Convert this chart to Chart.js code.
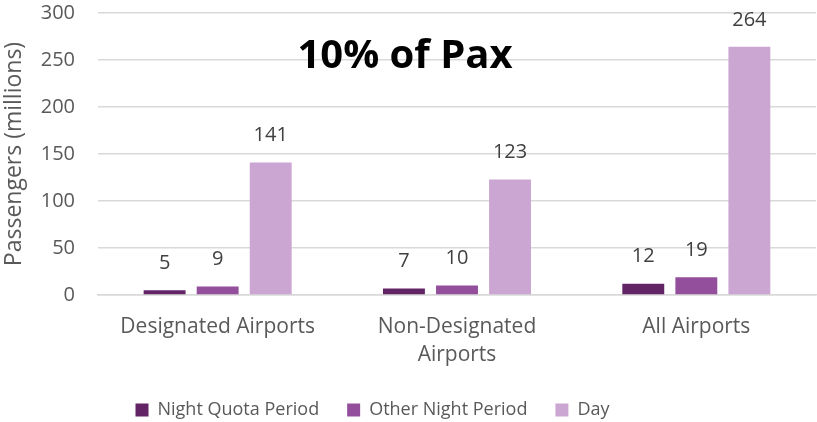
<!DOCTYPE html>
<html>
<head>
<meta charset="utf-8">
<script src="https://cdn.jsdelivr.net/npm/chart.js@4"></script>
<style>
  html, body { margin: 0; padding: 0; background: #fff; }
  #wrap { width: 817px; height: 422px; }
</style>
</head>
<body>
<div id="wrap"><canvas id="chart01" width="817" height="422"></canvas></div>
<script>
const categories = ['Designated Airports', ['Non-Designated', 'Airports'], 'All Airports']
const nightQuota = [5, 7, 12]
const otherNight = [9, 10, 19]
const day = [141, 123, 264]
const yTicks = [0, 50, 100, 150, 200, 250, 300]

const FONT = "'Open Sans', 'Liberation Sans', sans-serif"
const textColor = '#595959'

// draws the value above each bar
const valueLabels = {
    id: 'valueLabels',
    afterDatasetsDraw(chart) {
        const ctx = chart.ctx
        ctx.save()
        ctx.font = `20px ${FONT}`
        ctx.fillStyle = '#404040'
        ctx.textAlign = 'center'
        ctx.textBaseline = 'middle'
        chart.data.datasets.forEach((ds, i) => {
            chart.getDatasetMeta(i).data.forEach((bar, j) => {
                ctx.fillText(ds.data[j], bar.x, bar.y - 27)
            })
        })
        ctx.restore()
    }
}

// the "10% of Pax" note inside the plot
const paxNote = {
    id: 'paxNote',
    afterDraw(chart) {
        const ctx = chart.ctx
        ctx.save()
        ctx.font = `bold 40px ${FONT}`
        ctx.fillStyle = '#000'
        ctx.textAlign = 'center'
        ctx.textBaseline = 'middle'
        ctx.fillText('10% of Pax', 405, 57)
        ctx.restore()
    }
}

// nudge the legend left to where the original sits
const legendShift = {
    id: 'legendShift',
    afterLayout(chart) {
        chart.legend.left -= 36
        chart.legend.right -= 36
    }
}

const ctx = document.getElementById('chart01').getContext('2d')
new Chart(ctx, {
    type: 'bar',
    data: {
        labels: categories,
        datasets: [
            { label: 'Night Quota Period', data: nightQuota, backgroundColor: '#632466' },
            { label: 'Other Night Period', data: otherNight, backgroundColor: '#934f9c' },
            { label: 'Day', data: day, backgroundColor: '#cca6d2' }
        ]
    },
    options: {
        responsive: false,
        animation: false,
        categoryPercentage: 0.665,
        barPercentage: 0.79,
        layout: { padding: { left: 1, right: 1, top: 1, bottom: -7 } },
        plugins: {
            legend: {
                position: 'bottom',
                labels: {
                    font: { family: FONT, size: 18 },
                    color: textColor,
                    boxWidth: 13,
                    boxHeight: 13,
                    padding: 28
                }
            },
            tooltip: { enabled: false }
        },
        scales: {
            x: {
                grid: { display: false, drawTicks: false },
                border: { color: '#d9d9d9', width: 1.5 },
                ticks: { font: { family: FONT, size: 21, lineHeight: 1.33 }, color: textColor, padding: 18 },
                afterFit(scale) { scale.height = 78 }
            },
            y: {
                min: 0,
                max: 300,
                afterBuildTicks(axis) {
                    axis.ticks = yTicks.map(v => ({ value: v }))
                },
                afterFit(scale) {
                    scale.width = 97
                    // tick padding is horizontal here, keep it out of the top gap
                    scale.paddingTop = 13
                    scale.paddingBottom = 13
                },
                grid: { color: '#d9d9d9', lineWidth: 1.5, drawTicks: false },
                border: { display: false },
                ticks: { font: { family: FONT, size: 20 }, color: textColor, padding: 23 },
                title: {
                    display: true,
                    text: 'Passengers (millions)',
                    font: { family: FONT, size: 23 },
                    color: textColor,
                    padding: 0
                }
            }
        }
    },
    plugins: [valueLabels, paxNote, legendShift]
})
</script>
</body>
</html>
